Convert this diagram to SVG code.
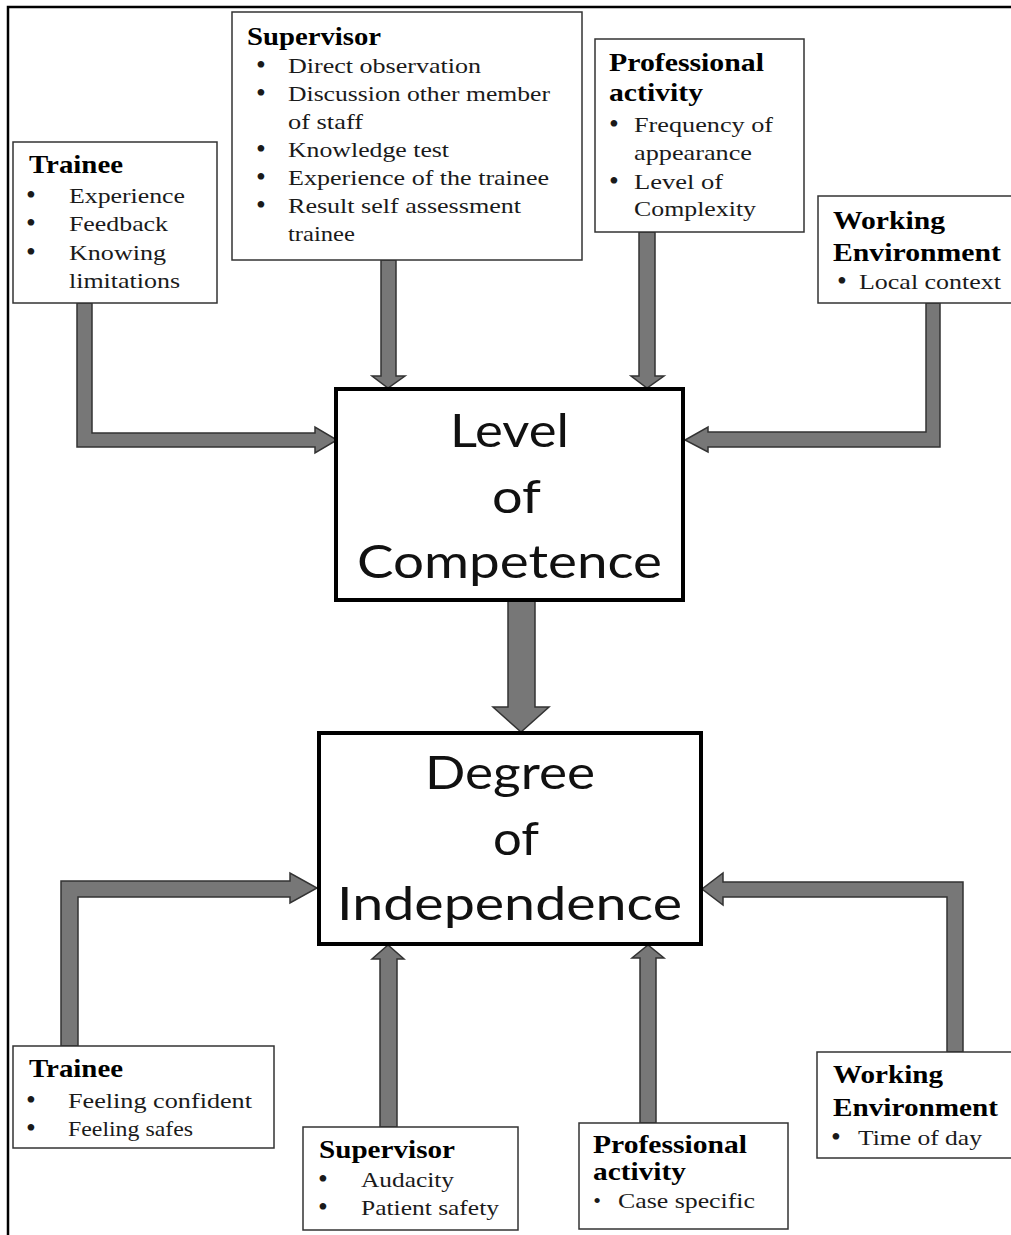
<svg xmlns="http://www.w3.org/2000/svg" width="1011" height="1235" viewBox="0 0 1011 1235">
<defs>
<style>
.box{fill:#fff;stroke:#333;stroke-width:1.5}
.main{fill:#fff;stroke:#000;stroke-width:4}
.arrow{fill:#777;stroke:#333;stroke-width:1.5;stroke-linejoin:miter}
.h{font-family:"Liberation Serif","Times New Roman",serif;font-weight:bold;font-size:25px;fill:#000}
.t{font-family:"Liberation Serif","Times New Roman",serif;font-size:22px;fill:#1a1a1a}
.b{font-family:"Liberation Serif","Times New Roman",serif;font-size:28px;fill:#1a1a1a;text-anchor:middle}
.big{font-family:Lato,"Open Sans",sans-serif;font-size:46px;fill:#111}
</style>
</defs>
<rect x="0" y="0" width="1011" height="1235" fill="#fff"/>
<rect x="8" y="7" width="1010" height="1240" fill="none" stroke="#000" stroke-width="2.5"/>

<g id="connectors">
<polygon class="arrow" points="77,303 92,303 92,433 315,433 315,427 337,440 315,453 315,447 77,447"/>
<polygon class="arrow" points="381,260 396,260 396,376 405,376 388,388 372,376 381,376"/>
<polygon class="arrow" points="639,232 655,232 655,376 664,376 647,388 631,376 639,376"/>
<polygon class="arrow" points="940,303 926,303 926,432 708,432 708,427 685,440 708,452 708,447 940,447"/>
<polygon class="arrow" points="508,600 535,600 535,707 549,707 521,732 493,707 508,707"/>
<polygon class="arrow" points="61,1046 61,881 290,881 290,873 317,888 290,903 290,897 78,897 78,1046"/>
<polygon class="arrow" points="380,1127 380,959 372,959 388,945 404,959 397,959 397,1127"/>
<polygon class="arrow" points="640,1123 640,958 632,958 648,945 664,958 656,958 656,1123"/>
<polygon class="arrow" points="963,1052 963,882 723,882 723,873 702,889 723,905 723,897 947,897 947,1052"/>
</g>

<g id="trainee-top">
<rect class="box" x="13" y="142" width="204" height="161"/>
<text class="h" x="29" y="173" textLength="94" lengthAdjust="spacingAndGlyphs">Trainee</text>
<text class="b" x="31" y="204">•</text><text class="t" x="69" y="203" textLength="116" lengthAdjust="spacingAndGlyphs">Experience</text>
<text class="b" x="31" y="232">•</text><text class="t" x="69" y="231" textLength="99" lengthAdjust="spacingAndGlyphs">Feedback</text>
<text class="b" x="31" y="261">•</text><text class="t" x="69" y="260" textLength="97" lengthAdjust="spacingAndGlyphs">Knowing</text>
<text class="t" x="69" y="288" textLength="111" lengthAdjust="spacingAndGlyphs">limitations</text>
</g>

<g id="supervisor-top">
<rect class="box" x="232" y="12" width="350" height="248"/>
<text class="h" x="247" y="45" textLength="134" lengthAdjust="spacingAndGlyphs">Supervisor</text>
<text class="b" x="261" y="74">•</text><text class="t" x="288" y="73" textLength="193" lengthAdjust="spacingAndGlyphs">Direct observation</text>
<text class="b" x="261" y="102">•</text><text class="t" x="288" y="101" textLength="262" lengthAdjust="spacingAndGlyphs">Discussion other member</text>
<text class="t" x="288" y="129" textLength="75" lengthAdjust="spacingAndGlyphs">of staff</text>
<text class="b" x="261" y="158">•</text><text class="t" x="288" y="157" textLength="161" lengthAdjust="spacingAndGlyphs">Knowledge test</text>
<text class="b" x="261" y="186">•</text><text class="t" x="288" y="185" textLength="261" lengthAdjust="spacingAndGlyphs">Experience of the trainee</text>
<text class="b" x="261" y="214">•</text><text class="t" x="288" y="213" textLength="233" lengthAdjust="spacingAndGlyphs">Result self assessment</text>
<text class="t" x="288" y="241" textLength="67" lengthAdjust="spacingAndGlyphs">trainee</text>
</g>

<g id="professional-top">
<rect class="box" x="595" y="39" width="209" height="193"/>
<text class="h" x="609" y="71" textLength="155" lengthAdjust="spacingAndGlyphs">Professional</text>
<text class="h" x="609" y="101" textLength="94" lengthAdjust="spacingAndGlyphs">activity</text>
<text class="b" x="614" y="133">•</text><text class="t" x="634" y="132" textLength="139" lengthAdjust="spacingAndGlyphs">Frequency of</text>
<text class="t" x="634" y="160" textLength="118" lengthAdjust="spacingAndGlyphs">appearance</text>
<text class="b" x="614" y="190">•</text><text class="t" x="634" y="189" textLength="89" lengthAdjust="spacingAndGlyphs">Level of</text>
<text class="t" x="634" y="216" textLength="122" lengthAdjust="spacingAndGlyphs">Complexity</text>
</g>

<g id="working-top">
<rect class="box" x="818" y="196" width="195" height="107"/>
<text class="h" x="833" y="229" textLength="112" lengthAdjust="spacingAndGlyphs">Working</text>
<text class="h" x="833" y="261" textLength="168" lengthAdjust="spacingAndGlyphs">Environment</text>
<text class="b" x="842" y="290">•</text><text class="t" x="859" y="289" textLength="142" lengthAdjust="spacingAndGlyphs">Local context</text>
</g>

<g id="competence">
<rect class="main" x="336" y="389" width="347" height="211"/>
<text class="big" x="450" y="447" textLength="119" lengthAdjust="spacingAndGlyphs">Level</text>
<text class="big" x="492" y="513" textLength="49" lengthAdjust="spacingAndGlyphs">of</text>
<text class="big" x="357" y="578" textLength="305" lengthAdjust="spacingAndGlyphs">Competence</text>
</g>

<g id="independence">
<rect class="main" x="319" y="733" width="382" height="211"/>
<text class="big" x="425" y="789" textLength="170" lengthAdjust="spacingAndGlyphs">Degree</text>
<text class="big" x="493" y="855" textLength="46" lengthAdjust="spacingAndGlyphs">of</text>
<text class="big" x="337" y="920" textLength="345" lengthAdjust="spacingAndGlyphs">Independence</text>
</g>

<g id="trainee-bottom">
<rect class="box" x="13" y="1046" width="261" height="102"/>
<text class="h" x="29" y="1077" textLength="94" lengthAdjust="spacingAndGlyphs">Trainee</text>
<text class="b" x="31" y="1109">•</text><text class="t" x="68" y="1108" textLength="184" lengthAdjust="spacingAndGlyphs">Feeling confident</text>
<text class="b" x="31" y="1137">•</text><text class="t" x="68" y="1136" textLength="125" lengthAdjust="spacingAndGlyphs">Feeling safes</text>
</g>

<g id="supervisor-bottom">
<rect class="box" x="303" y="1127" width="215" height="103"/>
<text class="h" x="319" y="1158" textLength="136" lengthAdjust="spacingAndGlyphs">Supervisor</text>
<text class="b" x="323" y="1188">•</text><text class="t" x="361" y="1187" textLength="93" lengthAdjust="spacingAndGlyphs">Audacity</text>
<text class="b" x="323" y="1216">•</text><text class="t" x="361" y="1215" textLength="138" lengthAdjust="spacingAndGlyphs">Patient safety</text>
</g>

<g id="professional-bottom">
<rect class="box" x="579" y="1123" width="209" height="106"/>
<text class="h" x="593" y="1153" textLength="154" lengthAdjust="spacingAndGlyphs">Professional</text>
<text class="h" x="593" y="1180" textLength="93" lengthAdjust="spacingAndGlyphs">activity</text>
<text class="b" x="597" y="1208" style="font-size:22px">•</text><text class="t" x="618" y="1208" textLength="137" lengthAdjust="spacingAndGlyphs">Case specific</text>
</g>

<g id="working-bottom">
<rect class="box" x="817" y="1052" width="196" height="106"/>
<text class="h" x="833" y="1083" textLength="110" lengthAdjust="spacingAndGlyphs">Working</text>
<text class="h" x="833" y="1116" textLength="165" lengthAdjust="spacingAndGlyphs">Environment</text>
<text class="b" x="836" y="1146">•</text><text class="t" x="858" y="1145" textLength="124" lengthAdjust="spacingAndGlyphs">Time of day</text>
</g>
</svg>
